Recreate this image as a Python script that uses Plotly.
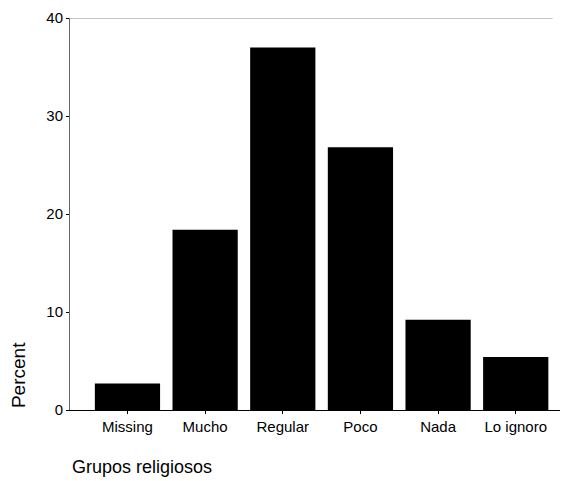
import plotly.graph_objects as go

categories = ["Missing", "Mucho", "Regular", "Poco", "Nada", "Lo ignoro"]
percent = [2.7, 18.4, 37.0, 26.8, 9.2, 5.4]
y_ticks = [0, 10, 20, 30, 40]

fig = go.Figure(go.Bar(
    x=list(range(len(categories))),
    y=percent,
    width=0.84,
    marker=dict(color="black", line=dict(width=0)),
))

fig.update_layout(
    width=570, height=481,
    margin=dict(l=70, r=10, t=18, b=71),
    paper_bgcolor="white", plot_bgcolor="white",
    font=dict(family="Liberation Sans, Arial, sans-serif", color="black"),
    showlegend=False,
    xaxis=dict(
        range=[-0.74, 5.57],
        tickmode="array",
        tickvals=list(range(len(categories))),
        ticktext=categories,
        ticks="outside", ticklen=3, tickcolor="black",
        showline=True, linecolor="black", linewidth=1,
        showgrid=False, zeroline=False,
        tickfont=dict(size=15),
    ),
    yaxis=dict(
        range=[0, 40],
        tickmode="array",
        tickvals=y_ticks,
        ticks="outside", ticklen=3, tickcolor="black",
        showline=True, linecolor="#666", linewidth=1,
        showgrid=False, zeroline=False,
        tickfont=dict(size=15),
    ),
    shapes=[dict(type="line", xref="paper", yref="y", x0=0, x1=0.985, y0=40, y1=40,
                 line=dict(color="#888", width=1))],
    annotations=[
        dict(text="Percent", xref="paper", yref="paper", x=-0.106, y=0.0,
             xanchor="center", yanchor="bottom", textangle=-90,
             showarrow=False, font=dict(size=19)),
        dict(text="Grupos religiosos", xref="paper", yref="paper", x=0.0, y=-0.145,
             xanchor="left", yanchor="middle",
             showarrow=False, font=dict(size=18)),
    ],
)

fig.write_html("out.html",
               config={"displayModeBar": False},
               post_script="document.body.style.margin='0';document.body.style.overflow='hidden';")
